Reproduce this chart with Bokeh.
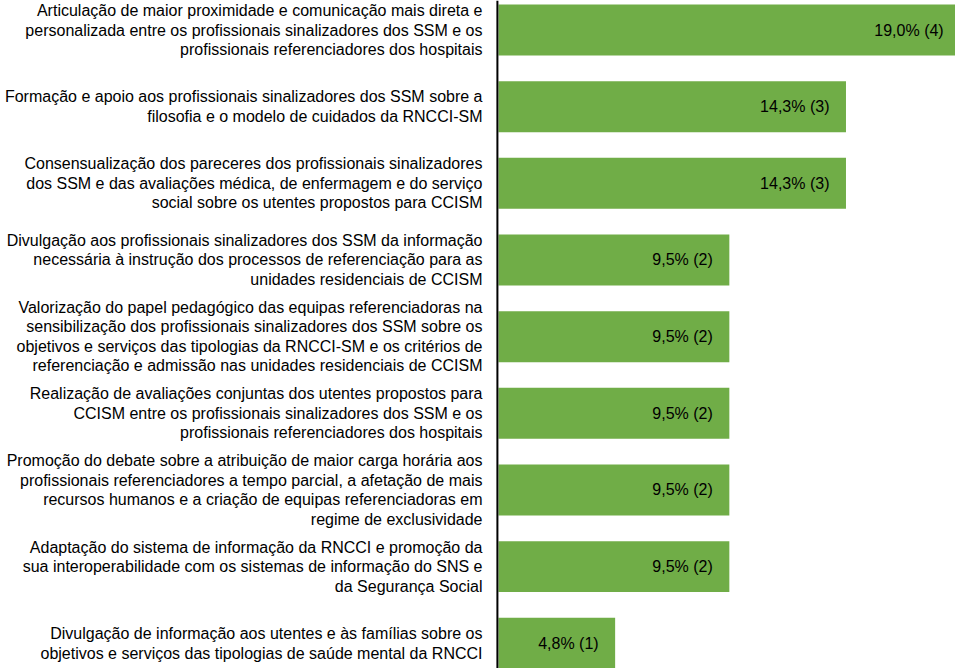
from bokeh.plotting import figure
from bokeh.models import Range1d, Span, ColumnDataSource
from bokeh.embed import file_html
from bokeh.resources import INLINE
from bokeh.core.properties import value

categories = [
    "Articulação de maior proximidade e comunicação mais direta e\npersonalizada entre os profissionais sinalizadores dos SSM e os\nprofissionais referenciadores dos hospitais",
    "Formação e apoio aos profissionais sinalizadores dos SSM sobre a\nfilosofia e o modelo de cuidados da RNCCI-SM",
    "Consensualização dos pareceres dos profissionais sinalizadores\ndos SSM e das avaliações médica, de enfermagem e do serviço\nsocial sobre os utentes propostos para CCISM",
    "Divulgação aos profissionais sinalizadores dos SSM da informação\nnecessária à instrução dos processos de referenciação para as\nunidades residenciais de CCISM",
    "Valorização do papel pedagógico das equipas referenciadoras na\nsensibilização dos profissionais sinalizadores dos SSM sobre os\nobjetivos e serviços das tipologias da RNCCI-SM e os critérios de\nreferenciação e admissão nas unidades residenciais de CCISM",
    "Realização de avaliações conjuntas dos utentes propostos para\nCCISM entre os profissionais sinalizadores dos SSM e os\nprofissionais referenciadores dos hospitais",
    "Promoção do debate sobre a atribuição de maior carga horária aos\nprofissionais referenciadores a tempo parcial, a afetação de mais\nrecursos humanos e a criação de equipas referenciadoras em\nregime de exclusividade",
    "Adaptação do sistema de informação da RNCCI e promoção da\nsua interoperabilidade com os sistemas de informação do SNS e\nda Segurança Social",
    "Divulgação de informação aos utentes e às famílias sobre os\nobjetivos e serviços das tipologias de saúde mental da RNCCI",
]
percentages = [19.0, 14.3, 14.3, 9.5, 9.5, 9.5, 9.5, 9.5, 4.8]
counts = [4, 3, 3, 2, 2, 2, 2, 2, 1]

positions = list(range(len(categories)))
value_labels = [f"{v:.1f}".replace(".", ",") + f"% ({n})" for v, n in zip(percentages, counts)]

src = ColumnDataSource(dict(y=positions, pct=percentages, cat=categories,
                            lab=value_labels, zero=[0] * len(positions)))

W, H = 955, 668
p = figure(width=W, height=H, output_backend="svg", toolbar_location=None,
           x_range=Range1d(-20.494, 18.807), y_range=Range1d(8.329, -0.385),
           min_border=0, min_border_left=0, min_border_right=0,
           min_border_top=0, min_border_bottom=0)
p.styles = {"position": "absolute", "top": "0px", "left": "0px"}
p.axis.visible = False
p.grid.visible = False
p.outline_line_color = None
p.background_fill_color = "white"
p.border_fill_color = "white"

p.hbar(y="y", left="zero", right="pct", height=0.665, source=src,
       fill_color="#70AD47", line_color=None)

p.text(x="pct", y="y", text="lab", source=src, x_offset=-16.5,
       text_align="right", text_baseline="middle",
       text_font=value("Liberation Sans"), text_font_size="16px",
       text_color="#000000")

p.text(x="zero", y="y", text="cat", source=src, x_offset=-16,
       text_align="right", text_baseline="middle",
       text_font=value("Liberation Sans"), text_font_size="16px",
       text_color="#000000", text_line_height=1.15)

p.add_layout(Span(location=-0.045, dimension="height", line_color="black",
                  line_width=2))

open("out.html", "w").write(file_html(p, INLINE))
